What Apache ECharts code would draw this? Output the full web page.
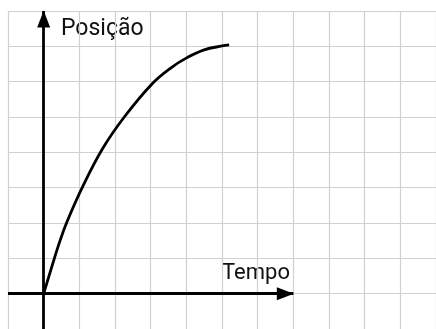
<!DOCTYPE html>
<html>
<head>
<meta charset="utf-8">
<script src="https://cdn.jsdelivr.net/npm/echarts@6/dist/echarts.min.js"></script>
<style>
  html, body { margin: 0; padding: 0; background: #fff; }
  #chart { width: 436px; height: 329px; }
</style>
</head>
<body>
<div id="chart"></div>
<script>
// Position over time (grid units)
const tempo   = [0, 0.30, 0.46, 0.64, 1.08, 1.65, 2.26, 3.05, 3.58, 4.02, 4.50, 5.00, 5.20];
const posicao = [0, 1.00, 1.50, 2.00, 3.00, 4.10, 5.00, 5.95, 6.40, 6.68, 6.90, 7.01, 7.04];

// Axis extents (grid units)
const eixoTempo = [-1, 7];
const eixoPosicao = [-1, 8];

// Labels
const rotuloX = 'Tempo';
const rotuloY = 'Posição';

const chart = echarts.init(document.getElementById('chart'), null, { renderer: 'canvas' });

const gridLine = { show: true, lineStyle: { color: '#d0d0d0', width: 1.2 } };

chart.setOption({
  animation: false,
  backgroundColor: '#ffffff',
  grid: { left: 8, top: 11, width: 432, height: 320.4, containLabel: false },
  xAxis: {
    type: 'value', min: -1, max: 11, interval: 1,
    axisLine: { show: false }, axisTick: { show: false }, axisLabel: { show: false },
    splitLine: gridLine
  },
  yAxis: {
    type: 'value', min: -1, max: 8, interval: 1,
    axisLine: { show: false }, axisTick: { show: false }, axisLabel: { show: false },
    splitLine: gridLine
  },
  series: [
    {
      type: 'line',
      data: tempo.map((t, i) => [t, posicao[i]]),
      smooth: 0.4,
      showSymbol: false,
      lineStyle: { color: '#000', width: 2.8 },
      z: 3
    },
    {
      // coordinate axes with arrowheads
      type: 'line',
      data: [],
      markLine: {
        silent: true,
        symbol: ['none', 'triangle'],
        symbolSize: [13, 17],
        symbolOffset: [0, [0, 8]],
        label: { show: false },
        lineStyle: { color: '#000', width: 2.8, type: 'solid' },
        itemStyle: { color: '#000' },
        emphasis: { disabled: true },
        data: [
          [{ coord: [eixoTempo[0], 0] }, { coord: [eixoTempo[1], 0] }],
          [{ coord: [0, eixoPosicao[0]] }, { coord: [0, eixoPosicao[1]] }]
        ]
      },
      z: 4
    }
  ],
  graphic: [
    {
      type: 'text', left: 61, top: 18,
      style: { text: rotuloY, font: '23px Roboto', fill: '#111' }
    },
    {
      type: 'text', left: 222, top: 262,
      style: { text: rotuloX, font: '22px Roboto', fill: '#111' }
    }
  ]
});
</script>
</body>
</html>
